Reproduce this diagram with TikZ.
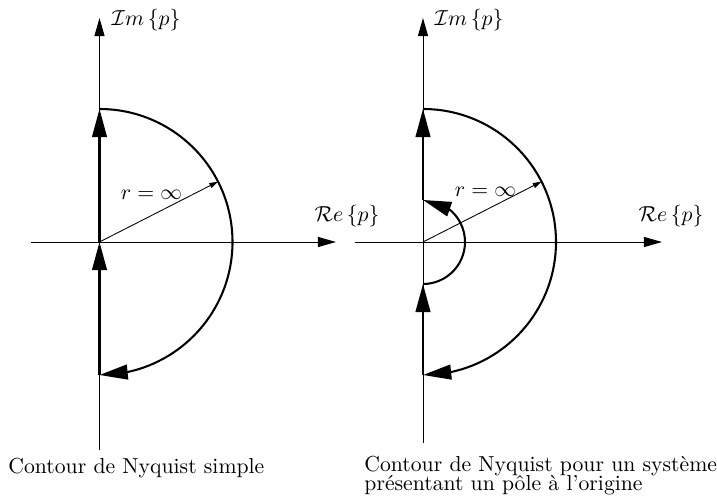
\documentclass[tikz,border=0pt]{standalone}
\usetikzlibrary{arrows.meta,bending}

\begin{document}
\begin{tikzpicture}[x=0.4608pt, y=0.4608pt,
  axe/.style={line width=0.45pt, -{Triangle[length=8.3pt, width=4.6pt]}},
  contour/.style={line width=0.95pt, -{Triangle[length=13pt, width=6.8pt, flex]}},
  rayon/.style={line width=0.4pt, -{Triangle[length=4pt, width=2.4pt]}}]
\useasboundingbox (0,0) rectangle (717,500);
% contour de Nyquist simple
\coordinate (O1) at (99.5,258);
\draw[axe] (31,258) -- (336,258) coordinate (re1);
\draw[axe] (99.5,50) -- (99.5,482) coordinate (im1);
\draw[contour] (O1) ++(0,-133) coordinate (b1) -- (O1);
\draw[contour] (O1) -- ++(0,133) coordinate (h1);
\draw[contour] (h1) arc[start angle=90, end angle=-90, radius=133];
\draw[rayon] (O1) -- ++(27:133);
\node[anchor=west] (im1lbl) at (104,480) {$\mathcal{I}m\left\{p\right\}$};
\node (re1lbl) at (347,284) {$\mathcal{R}e\left\{p\right\}$};
\node (r1lbl) at (151.5,305) {$r=\infty$};
\node[anchor=base west, inner sep=0pt] (cap1) at (8,27) {Contour de Nyquist simple};
% contour avec un pole a l'origine
\coordinate (O2) at (423,258);
\draw[axe] (355,258) -- (662,258) coordinate (re2);
\draw[axe] (423,57) -- (423,482) coordinate (im2);
\draw[contour] (O2) ++(0,-133) coordinate (b2) -- ++(0,91) coordinate (pb2);
\draw[contour] (pb2) arc[start angle=-90, end angle=90, radius=42] coordinate (ph2);
\draw[contour] (ph2) -- ++(0,91) coordinate (h2);
\draw[contour] (h2) arc[start angle=90, end angle=-90, radius=133];
\draw[rayon] (O2) -- ++(27:133);
\node[anchor=west] (im2lbl) at (427,480) {$\mathcal{I}m\left\{p\right\}$};
\node (re2lbl) at (671,284) {$\mathcal{R}e\left\{p\right\}$};
\node (r2lbl) at (485.5,308) {$r=\infty$};
\node[anchor=north west, inner sep=0pt, align=left] (cap2) at (364,44)
  {Contour de Nyquist pour un syst\`eme\\[-3.5pt]pr\'esentant un p\^ole \`a l'origine};
\end{tikzpicture}
\end{document}
